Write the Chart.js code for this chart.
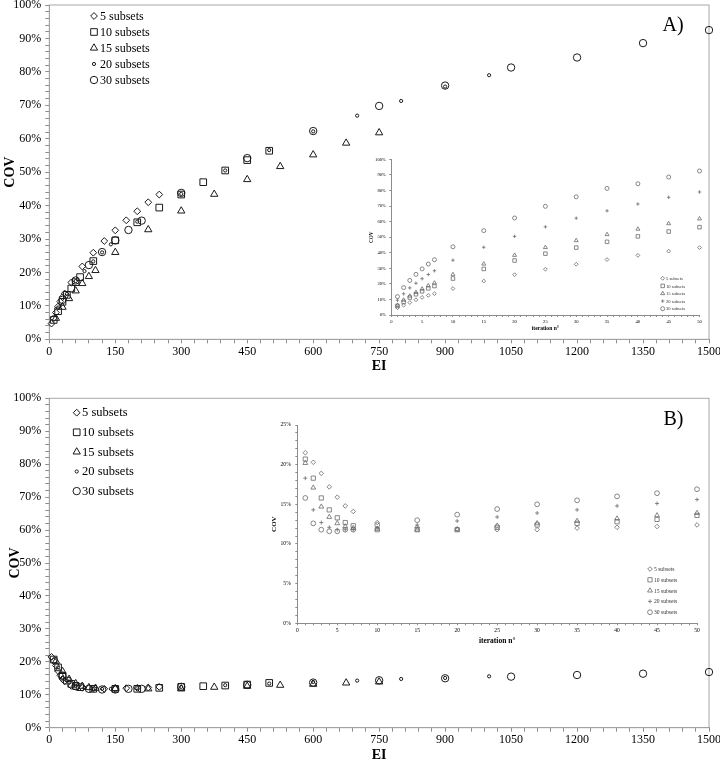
<!DOCTYPE html>
<html>
<head>
<meta charset="utf-8">
<script src="https://cdn.jsdelivr.net/npm/chart.js@4.4.1/dist/chart.umd.min.js"></script>
<style>
    html, body { margin: 0; padding: 0; background: #fff; width: 720px; height: 760px; overflow: hidden; }
    canvas { position: absolute; }
</style>
</head>
<body>
<canvas id="mainA" width="740" height="386" style="left:0;top:-10px"></canvas>
<canvas id="insetA" width="370" height="200" style="left:355px;top:140px"></canvas>
<canvas id="mainB" width="740" height="384" style="left:0;top:380px"></canvas>
<canvas id="insetB" width="470" height="250" style="left:255px;top:405px"></canvas>
<script>
// ==========================
// DATA (COV in %, per iteration n°)
// ==========================
const iterations = [1, 2, 3, 4, 5, 6, 7, 10, 15, 20, 25, 30, 35, 40, 45, 50];
const subsets = [5, 10, 15, 20, 30];
const seriesLabels = ["5 subsets", "10 subsets", "15 subsets", "20 subsets", "30 subsets"];

// panel A
const covA5  = [4.7, 6.3, 8.0, 9.8, 11.3, 12.6, 13.7, 17.0, 21.8, 25.9, 29.4, 32.6, 35.6, 38.3, 41.0, 43.3];
const covA10 = [5.8, 8.4, 11.2, 13.3, 15.2, 17.1, 18.6, 23.4, 29.6, 35.0, 39.4, 43.3, 47.0, 50.5, 53.6, 56.4];
const covA15 = [6.3, 9.6, 12.2, 14.5, 16.7, 18.8, 20.6, 26.0, 32.8, 38.4, 43.4, 47.8, 51.7, 55.2, 58.7, 61.8];
const covA20 = [9.5, 13.6, 17.4, 20.4, 23.3, 26.0, 28.4, 35.2, 43.5, 50.5, 56.6, 62.2, 66.9, 71.3, 75.6, 79.0];
const covA30 = [11.8, 17.6, 22.2, 26.1, 29.6, 32.7, 35.5, 43.8, 54.2, 62.3, 69.8, 75.9, 81.3, 84.3, 88.6, 92.5];

// panel B
const covB5  = [21.5, 20.3, 18.9, 17.2, 15.9, 14.8, 14.1, 12.7, 12.1, 11.9, 11.8, 11.8, 12.0, 12.1, 12.2, 12.4];
const covB10 = [20.7, 18.3, 15.8, 14.3, 13.3, 12.7, 12.3, 11.8, 11.8, 11.8, 12.1, 12.4, 12.6, 12.8, 13.1, 13.6];
const covB15 = [20.2, 17.1, 14.7, 13.4, 12.6, 12.2, 12.0, 11.9, 11.8, 11.8, 12.3, 12.6, 12.9, 13.2, 13.6, 13.9];
const covB20 = [18.3, 14.3, 12.7, 12.1, 11.8, 11.8, 11.8, 12.0, 12.4, 12.9, 13.4, 13.9, 14.3, 14.8, 15.1, 15.6];
const covB30 = [15.8, 12.6, 11.8, 11.6, 11.6, 11.8, 11.8, 12.4, 13.0, 13.7, 14.4, 15.0, 15.5, 16.0, 16.4, 16.9];

// tick labels
const eiTicks = [0, 150, 300, 450, 600, 750, 900, 1050, 1200, 1350, 1500];
const covTicksMain = [0, 10, 20, 30, 40, 50, 60, 70, 80, 90, 100];
const iterTicks = [0, 5, 10, 15, 20, 25, 30, 35, 40, 45, 50];
const covTicksInsetB = [0, 5, 10, 15, 20, 25];

const FONT = "Liberation Serif";
Chart.defaults.font.family = FONT;
Chart.defaults.color = "#000";

// minor ticks lists (labels only shown on the major ones)
function steps(min, max, step) {
    const out = [];
    for (let v = min; v <= max + 1e-9; v += step) out.push(v);
    return out;
}

// ==========================
// DECOR PLUGIN: frame, legend box, panel letter
// ==========================
const decor = {
    id: "decor",
    beforeDatasetsDraw(chart, args, o) {
        if (!o.frame) return;
        const a = chart.chartArea;
        const ctx = chart.ctx;
        ctx.save();
        ctx.strokeStyle = o.frame;
        ctx.lineWidth = 1;
        ctx.strokeRect(a.left, a.top, a.right - a.left, a.bottom - a.top);
        ctx.restore();
    },
    afterDraw(chart, args, o) {
        const ctx = chart.ctx;
        ctx.save();
        if (o.legend) {
            const L = o.legend;
            chart.data.datasets.forEach((ds, i) => {
                const y = L.y + i * L.step;
                ctx.strokeStyle = ds.borderColor;
                ctx.fillStyle = "rgba(0,0,0,0)";
                ctx.lineWidth = ds.borderWidth;
                Chart.helpers.drawPoint(ctx, {
                    pointStyle: ds.pointStyle,
                    radius: ds.pointRadius,
                    rotation: 0,
                    borderWidth: ds.borderWidth
                }, L.x, y);
                ctx.fillStyle = L.color;
                ctx.font = `${L.size}px "${FONT}"`;
                ctx.textAlign = "left";
                ctx.textBaseline = "middle";
                ctx.fillText(seriesLabels[i], L.textX, y + 0.5);
            });
        }
        if (o.panel) {
            ctx.fillStyle = "#000";
            ctx.font = `${o.panel.size}px "${FONT}"`;
            ctx.textAlign = "center";
            ctx.textBaseline = "middle";
            ctx.fillText(o.panel.text, o.panel.x, o.panel.y);
        }
        ctx.restore();
    }
};

// ==========================
// BUILDERS
// ==========================
function makeDatasets(covs, useEI, marks, color) {
    return covs.map((vals, i) => ({
        label: seriesLabels[i],
        data: vals.map((v, k) => ({ x: useEI ? iterations[k] * subsets[i] : iterations[k], y: v })),
        pointStyle: marks[i].style,
        pointRadius: marks[i].r,
        pointHoverRadius: marks[i].r,
        borderColor: color,
        backgroundColor: "rgba(0,0,0,0)",
        borderWidth: marks[i].w || 1,
        clip: false
    }));
}

function axis(cfg) {
    const s = {
        type: "linear",
        min: cfg.min,
        max: cfg.max,
        afterBuildTicks: sc => { sc.ticks = cfg.ticks.map(v => ({ value: v })); },
        ticks: {
            autoSkip: false,
            maxRotation: 0,
            padding: cfg.pad,
            color: "#000",
            font: { family: FONT, size: cfg.fontSize },
            callback: v => (cfg.major.includes(v) ? v + (cfg.suffix || "") : "")
        },
        grid: { drawOnChartArea: false, drawTicks: true, tickLength: cfg.tickLen, color: cfg.axisColor },
        border: { color: cfg.axisColor },
        title: {
            display: true,
            text: cfg.title,
            color: "#000",
            font: { family: FONT, size: cfg.titleSize, weight: "bold" },
            padding: cfg.titlePad
        }
    };
    if (cfg.width) s.afterFit = sc => { sc.width = cfg.width; };
    if (cfg.height) s.afterFit = sc => { sc.height = cfg.height; };
    return s;
}

function makeChart(id, datasets, scales, padding, decorOpts) {
    return new Chart(document.getElementById(id), {
        type: "scatter",
        data: { datasets: datasets },
        options: {
            responsive: false,
            animation: false,
            devicePixelRatio: 1,
            layout: { padding: padding },
            plugins: {
                legend: { display: false },
                tooltip: { enabled: false },
                decor: decorOpts
            },
            scales: scales
        },
        plugins: [decor]
    });
}

const mainMarks = [
    { style: "rectRot", r: 3.4 },
    { style: "rect", r: 4.7 },
    { style: "triangle", r: 4.2 },
    { style: "circle", r: 1.6 },
    { style: "circle", r: 3.7 }
];
const insetMarksA = [
    { style: "rectRot", r: 1.9, w: 0.8 },
    { style: "rect", r: 2.5, w: 0.8 },
    { style: "triangle", r: 2.3, w: 0.8 },
    { style: "cross", r: 1.7, w: 0.8 },
    { style: "circle", r: 2.0, w: 0.8 }
];
const insetMarksB = [
    { style: "rectRot", r: 2.3, w: 0.8 },
    { style: "rect", r: 3.0, w: 0.8 },
    { style: "triangle", r: 2.8, w: 0.8 },
    { style: "cross", r: 2.0, w: 0.8 },
    { style: "circle", r: 2.4, w: 0.8 }
];

// ==========================
// PANEL A
// ==========================
makeChart("mainA",
    makeDatasets([covA5, covA10, covA15, covA20, covA30], true, mainMarks, "#1a1a1a"),
    {
        x: axis({ min: 0, max: 1500, ticks: steps(0, 1500, 30), major: eiTicks, pad: 1, fontSize: 12,
                  tickLen: 4, axisColor: "#8c8c8c", title: "EI", titleSize: 14,
                  titlePad: { top: 0, bottom: 1.6 }, height: 36.7 }),
        y: axis({ min: 0, max: 100, ticks: steps(0, 100, 2), major: covTicksMain, suffix: "%", pad: 4,
                  fontSize: 12, tickLen: 4, axisColor: "#8c8c8c", title: "COV", titleSize: 14,
                  titlePad: { top: 2.1, bottom: 0 }, width: 49.3 })
    },
    { top: 15, right: 31, left: 0, bottom: 0 },
    {
        frame: "#a8a8a8",
        legend: { x: 94, y: 26, step: 16, textX: 100, size: 12, color: "#000" },
        panel: { text: "A)", x: 673, y: 35.5, size: 20 }
    }
);

makeChart("insetA",
    makeDatasets([covA5, covA10, covA15, covA20, covA30], false, insetMarksA, "#6a6a6a"),
    {
        x: axis({ min: 0, max: 50, ticks: steps(0, 50, 1), major: iterTicks, pad: 2, fontSize: 4.6,
                  tickLen: 2, axisColor: "#8c8c8c", title: "iteration n°", titleSize: 5.6,
                  titlePad: { top: 0, bottom: 7.7 }, height: 25 }),
        y: axis({ min: 0, max: 100, ticks: covTicksMain, major: covTicksMain, suffix: "%", pad: 3.5,
                  fontSize: 4.6, tickLen: 2, axisColor: "#8c8c8c", title: "COV", titleSize: 5.2,
                  titlePad: { top: 13.7, bottom: 0 }, width: 36.3 })
    },
    { top: 19.3, right: 25.5, left: 0, bottom: 0 },
    {
        legend: { x: 307.7, y: 138.3, step: 7.6, textX: 311, size: 4.6, color: "#333" }
    }
);

// ==========================
// PANEL B
// ==========================
makeChart("mainB",
    makeDatasets([covB5, covB10, covB15, covB20, covB30], true, mainMarks, "#1a1a1a"),
    {
        x: axis({ min: 0, max: 1500, ticks: steps(0, 1500, 30), major: eiTicks, pad: 1, fontSize: 12,
                  tickLen: 4, axisColor: "#8c8c8c", title: "EI", titleSize: 14,
                  titlePad: { top: 0, bottom: 0.6 }, height: 36.3 }),
        y: axis({ min: 0, max: 100, ticks: steps(0, 100, 2), major: covTicksMain, suffix: "%", pad: 4,
                  fontSize: 12, tickLen: 4, axisColor: "#8c8c8c", title: "COV", titleSize: 14,
                  titlePad: { top: 6.6, bottom: 0 }, width: 49.3 })
    },
    { top: 18.3, right: 31, left: 0, bottom: 0 },
    {
        frame: "#a8a8a8",
        legend: { x: 76.7, y: 32.7, step: 19.6, textX: 82, size: 12.5, color: "#000" },
        panel: { text: "B)", x: 673.5, y: 40, size: 20 }
    }
);

makeChart("insetB",
    makeDatasets([covB5, covB10, covB15, covB20, covB30], false, insetMarksB, "#6a6a6a"),
    {
        x: axis({ min: 0, max: 50, ticks: steps(0, 50, 1), major: iterTicks, pad: 1.5, fontSize: 5.6,
                  tickLen: 2, axisColor: "#8c8c8c", title: "iteration n°", titleSize: 7.5,
                  titlePad: { top: 0, bottom: 9.5 }, height: 31.7 }),
        y: axis({ min: 0, max: 25, ticks: steps(0, 25, 1), major: covTicksInsetB, suffix: "%", pad: 4.5,
                  fontSize: 5.6, tickLen: 2, axisColor: "#8c8c8c", title: "COV", titleSize: 7,
                  titlePad: { top: 14.8, bottom: 0 }, width: 42.3 })
    },
    { top: 20, right: 28, left: 0, bottom: 0 },
    {
        legend: { x: 395, y: 164, step: 10.8, textX: 399, size: 5.6, color: "#333" }
    }
);
</script>
</body>
</html>
